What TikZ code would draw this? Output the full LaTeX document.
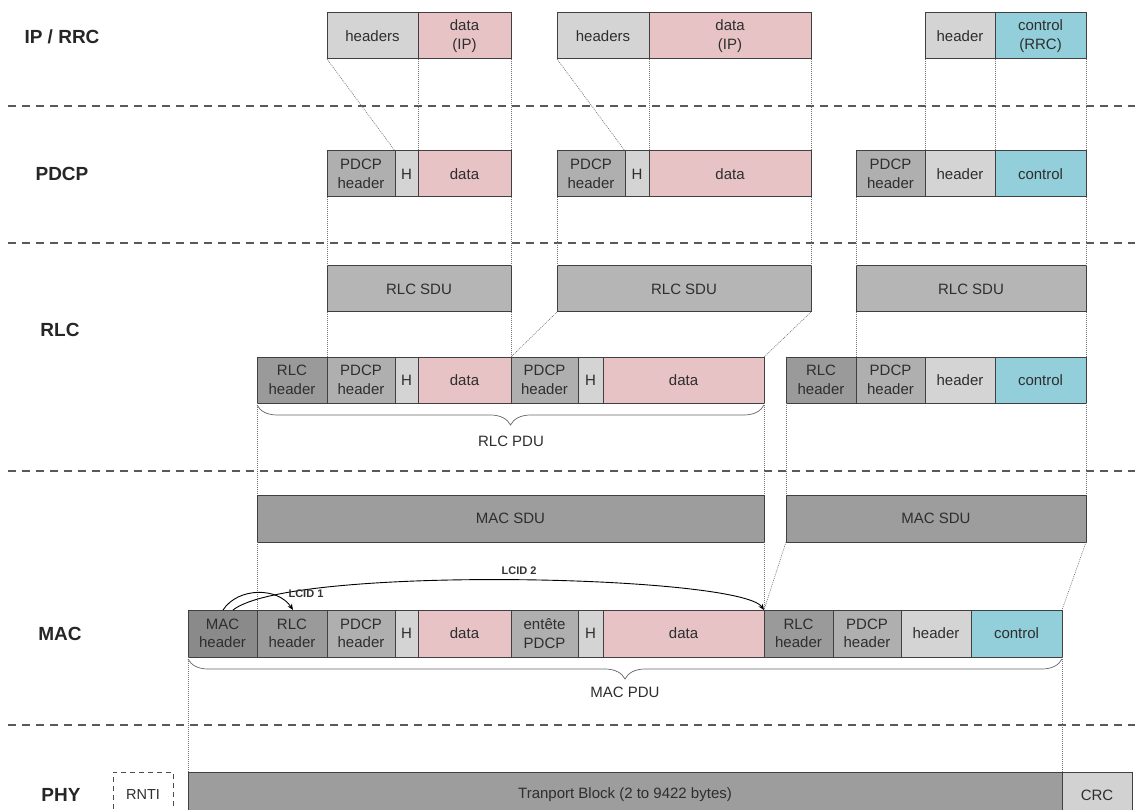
\documentclass[tikz,border=0pt]{standalone}
\usepackage{fontspec}
\setmainfont{Liberation Sans}
\usetikzlibrary{arrows.meta,decorations.pathreplacing}
\definecolor{hdrL}{HTML}{D4D4D4}
\definecolor{pdcpG}{HTML}{AFAFAF}
\definecolor{rlcG}{HTML}{9A9A9A}
\definecolor{macG}{HTML}{8A8A8A}
\definecolor{dataP}{HTML}{E7C3C5}
\definecolor{ctrlC}{HTML}{93CFDA}
\definecolor{sduR}{HTML}{B5B5B5}
\definecolor{sduM}{HTML}{9D9D9D}
\definecolor{crcG}{HTML}{D2D2D2}
\definecolor{edgeG}{HTML}{404040}
\definecolor{txtG}{HTML}{2E2E2E}
\tikzset{
  cell/.style={draw=edgeG, line width=1pt, inner sep=0pt, outer sep=0pt, align=center,
    text=txtG, font=\fontsize{15}{18.5}\selectfont},
  layer/.style={font=\bfseries\fontsize{19}{22}\selectfont, text=black!85},
  sep/.style={draw=black!65, line width=1.3pt, dash pattern=on 8pt off 6pt},
  guide/.style={draw=black!55, line width=0.6pt, dash pattern=on 1pt off 1pt},
  bracegr/.style={draw=black!60, line width=0.7pt, decorate, decoration={brace, mirror, amplitude=20pt}},
  lcid/.style={draw=black, line width=0.9pt, -{Stealth[length=6pt,width=5pt]}},
  lcidtxt/.style={font=\bfseries\fontsize{11}{12}\selectfont, text=black!80},
  pdulbl/.style={font=\fontsize{15}{17.5}\selectfont, text=txtG}
}
\newcommand\cellbox[7]{\node[cell,fill=#6,minimum width={#3-#2},minimum height={#5-#4}] (#1) at ({(#2+#3)/2},{(#4+#5)/2}) {#7};}
\begin{document}
\begin{tikzpicture}[x=1pt,y=-1pt]
\useasboundingbox (0,0) rectangle (1135,810);
\fill[white] (0,0) rectangle (1135,810);

% separators
\foreach \yy in {106,243,471,725} {\draw[sep] (8,\yy) -- (1135,\yy);}

% layer labels
\node[layer] (lip) at (62,37) {IP / RRC};
\node[layer] (lpdcp) at (62,174) {PDCP};
\node[layer] (lrlc) at (60,330) {RLC};
\node[layer] (lmac) at (60,634) {MAC};
\node[layer] (lphy) at (61,795) {PHY};

% IP / RRC row
\cellbox{ipAh}{327}{418}{13}{59}{hdrL}{headers}
\cellbox{ipAd}{418}{511}{13}{59}{dataP}{data\\(IP)}
\cellbox{ipBh}{557}{649}{13}{59}{hdrL}{headers}
\cellbox{ipBd}{649}{811}{13}{59}{dataP}{data\\(IP)}
\cellbox{ipCh}{925}{995}{13}{59}{hdrL}{header}
\cellbox{ipCc}{995}{1086}{13}{59}{ctrlC}{control\\(RRC)}

% PDCP row
\cellbox{pdAp}{327}{395}{151}{197}{pdcpG}{PDCP\\header}
\cellbox{pdAH}{395}{418}{151}{197}{hdrL}{H}
\cellbox{pdAd}{418}{511}{151}{197}{dataP}{data}
\cellbox{pdBp}{557}{625}{151}{197}{pdcpG}{PDCP\\header}
\cellbox{pdBH}{625}{649}{151}{197}{hdrL}{H}
\cellbox{pdBd}{649}{811}{151}{197}{dataP}{data}
\cellbox{pdCp}{856}{925}{151}{197}{pdcpG}{PDCP\\header}
\cellbox{pdCh}{925}{995}{151}{197}{hdrL}{header}
\cellbox{pdCc}{995}{1086}{151}{197}{ctrlC}{control}

% RLC SDU row
\cellbox{sduA}{327}{511}{266}{312}{sduR}{RLC SDU}
\cellbox{sduB}{557}{811}{266}{312}{sduR}{RLC SDU}
\cellbox{sduC}{856}{1086}{266}{312}{sduR}{RLC SDU}

% RLC PDU row
\cellbox{rAr}{257}{327}{357}{403}{rlcG}{RLC\\header}
\cellbox{rAp}{327}{395}{357}{403}{pdcpG}{PDCP\\header}
\cellbox{rAH}{395}{418}{357}{403}{hdrL}{H}
\cellbox{rAd}{418}{511}{357}{403}{dataP}{data}
\cellbox{rAp2}{511}{578}{357}{403}{pdcpG}{PDCP\\header}
\cellbox{rAH2}{578}{603}{357}{403}{hdrL}{H}
\cellbox{rAd2}{603}{764}{357}{403}{dataP}{data}
\cellbox{rBr}{786}{856}{357}{403}{rlcG}{RLC\\header}
\cellbox{rBp}{856}{925}{357}{403}{pdcpG}{PDCP\\header}
\cellbox{rBh}{925}{995}{357}{403}{hdrL}{header}
\cellbox{rBc}{995}{1086}{357}{403}{ctrlC}{control}

% MAC SDU row
\cellbox{msduA}{257}{764}{495}{542}{sduM}{MAC SDU}
\cellbox{msduB}{786}{1086}{495}{542}{sduM}{MAC SDU}

% MAC row
\cellbox{mMac}{188}{257}{610}{657}{macG}{MAC\\header}
\cellbox{mRlc}{257}{327}{610}{657}{rlcG}{RLC\\header}
\cellbox{mP}{327}{395}{610}{657}{pdcpG}{PDCP\\header}
\cellbox{mH}{395}{418}{610}{657}{hdrL}{H}
\cellbox{mD}{418}{511}{610}{657}{dataP}{data}
\cellbox{mE}{511}{578}{610}{657}{pdcpG}{entête\\PDCP}
\cellbox{mH2}{578}{603}{610}{657}{hdrL}{H}
\cellbox{mD2}{603}{764}{610}{657}{dataP}{data}
\cellbox{mR2}{764}{833}{610}{657}{rlcG}{RLC\\header}
\cellbox{mP2}{833}{901}{610}{657}{pdcpG}{PDCP\\header}
\cellbox{mHd}{901}{971}{610}{657}{hdrL}{header}
\cellbox{mC}{971}{1062}{610}{657}{ctrlC}{control}

% PHY row
\node[draw=black!70, line width=0.9pt, dash pattern=on 5pt off 4pt, minimum width=60, minimum height=46,
  inner sep=0pt, text=txtG, font=\fontsize{14.5}{17}\selectfont] (rnti) at (143,795) {RNTI};
\cellbox{tb}{188}{1062}{772}{818}{sduM}{Tranport Block (2 to 9422 bytes)}
\cellbox{crc}{1062}{1132}{772}{818}{crcG}{\raisebox{-1pt}{CRC}}

% guides IP -> PDCP
\draw[guide] (ipAh.south west) -- (pdAH.north west);
\draw[guide] (ipAd.south west) -- (pdAd.north west);
\draw[guide] (ipAd.south east) -- (pdAd.north east);
\draw[guide] (ipBh.south west) -- (pdBH.north west);
\draw[guide] (ipBd.south west) -- (pdBd.north west);
\draw[guide] (ipBd.south east) -- (pdBd.north east);
\draw[guide] (ipCh.south west) -- (pdCh.north west);
\draw[guide] (ipCc.south west) -- (pdCc.north west);
\draw[guide] (ipCc.south east) -- (pdCc.north east);

% guides PDCP -> RLC SDU
\draw[guide] (pdAp.south west) -- (sduA.north west);
\draw[guide] (pdAd.south east) -- (sduA.north east);
\draw[guide] (pdBp.south west) -- (sduB.north west);
\draw[guide] (pdBd.south east) -- (sduB.north east);
\draw[guide] (pdCp.south west) -- (sduC.north west);
\draw[guide] (pdCc.south east) -- (sduC.north east);

% guides RLC SDU -> RLC PDU
\draw[guide] (sduA.south west) -- (rAp.north west);
\draw[guide] (sduA.south east) -- (rAd.north east);
\draw[guide] (sduB.south west) -- (rAp2.north west);
\draw[guide] (sduB.south east) -- (rAd2.north east);
\draw[guide] (sduC.south west) -- (rBp.north west);
\draw[guide] (sduC.south east) -- (rBc.north east);

% guides RLC PDU -> MAC SDU
\draw[guide] (rAr.south west) -- (msduA.north west);
\draw[guide] (rAd2.south east) -- (msduA.north east);
\draw[guide] (rBr.south west) -- (msduB.north west);
\draw[guide] (rBc.south east) -- (msduB.north east);

% guides MAC SDU -> MAC PDU
\draw[guide] (msduA.south west) -- (mRlc.north west);
\draw[guide] (msduA.south east) -- (mD2.north east);
\draw[guide] (msduB.south west) -- (mR2.north west);
\draw[guide] (msduB.south east) -- (mC.north east);

% guides MAC -> PHY
\draw[guide] (mMac.south west) -- (tb.north west);
\draw[guide] (mC.south east) -- (tb.north east);

% braces
\draw[bracegr] ([yshift=-2pt]rAr.south west) -- ([yshift=-2pt]rAd2.south east);
\node[pdulbl] (rlcpdu) at (511,441) {RLC PDU};
\draw[bracegr] ([yshift=-2pt]mMac.south west) -- ([yshift=-2pt]mC.south east);
\node[pdulbl] (macpdu) at (625,692) {MAC PDU};

% LCID arrows
\coordinate (l1s) at ([xshift=35pt]mMac.north west);
\coordinate (l1e) at ([xshift=36pt]mRlc.north west);
\coordinate (l2s) at ([xshift=45pt]mMac.north west);
\draw[lcid] (l1s) .. controls (238,587) and (278,587) .. (l1e);
\draw[lcid] (l2s) .. controls (290,565) and (740,575) .. (mR2.north west);
\node[lcidtxt] (lc1) at (306,594) {LCID 1};
\node[lcidtxt] (lc2) at (519,571) {LCID 2};
\end{tikzpicture}
\end{document}
